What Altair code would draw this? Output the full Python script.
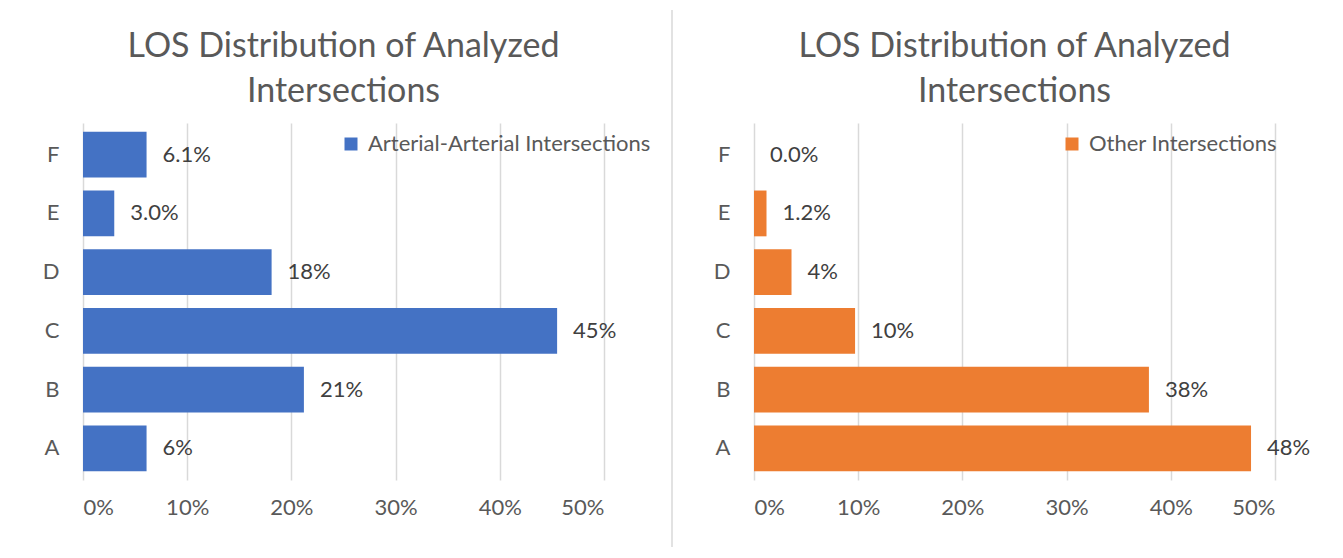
import altair as alt
import pandas as pd

categories = ["A", "B", "C", "D", "E", "F"]
arterial_values = [0.061, 0.212, 0.455, 0.181, 0.030, 0.061]
arterial_labels = ["6%", "21%", "45%", "18%", "3.0%", "6.1%"]
other_values = [0.477, 0.379, 0.097, 0.036, 0.012, 0.000]
other_labels = ["48%", "38%", "10%", "4%", "1.2%", "0.0%"]
series_names = ["Arterial-Arterial Intersections", "Other Intersections"]
series_colors = ["#4472C4", "#ED7D31"]
x_ticks = [0, 0.1, 0.2, 0.3, 0.4, 0.5]
title_lines = ["LOS Distribution of Analyzed", "Intersections"]

FONT = "Lato"
W, H = 521, 357
FS = 22


def panel(values, labels, name, color, legend_x):
    df = pd.DataFrame({"LOS": categories, "share": values, "label": labels, "series": name})
    base = alt.Chart(df).encode(
        y=alt.Y("LOS:N", sort=list(reversed(categories)), title=None,
                scale=alt.Scale(paddingInner=0.22, paddingOuter=0.15),
                axis=alt.Axis(ticks=False, domain=False, labelPadding=24, labelFontSize=FS,
                              labelColor="#595959", labelFont=FONT, grid=False)),
        x=alt.X("share:Q", title=None, scale=alt.Scale(domain=[0, 0.5], nice=False),
                axis=alt.Axis(values=x_ticks, format=".0%", ticks=False, domain=False, grid=True,
                              gridColor="#D9D9D9", gridWidth=1.5, labelPadding=17, labelFontSize=FS,
                              labelColor="#595959", labelFont=FONT)),
    )
    bars = base.mark_bar().encode(
        color=alt.Color("series:N", scale=alt.Scale(domain=[name], range=[color]),
                        legend=alt.Legend(title=None, orient="none", legendX=legend_x, legendY=10,
                                          symbolType="square", symbolSize=169, symbolStrokeWidth=0,
                                          labelFontSize=FS, labelFont=FONT, labelColor="#595959",
                                          labelLimit=400, labelOffset=6, padding=0))
    )
    text = base.mark_text(align="left", baseline="middle", dx=16, fontSize=FS, font=FONT,
                          color="#404040").encode(text="label:N")
    return alt.layer(bars, text).properties(
        width=W, height=H,
        title=alt.TitleParams(text=title_lines, fontSize=34, font=FONT, color="#595959",
                              fontWeight="normal", anchor="middle", frame="group",
                              lineHeight=45, offset=14),
    )


left = panel(arterial_values, arterial_labels, series_names[0], series_colors[0], 257)
right = panel(other_values, other_labels, series_names[1], series_colors[1], 307)

divider = alt.Chart(pd.DataFrame({"d": [0]})).mark_rule(color="#D9D9D9", strokeWidth=1.5).encode(
    x=alt.value(-2), y=alt.value(-113), y2=alt.value(424)
).properties(width=10, height=H)

chart = alt.hconcat(left, divider, right, spacing=70, bounds="flush").resolve_scale(
    color="independent", x="independent", y="independent"
).properties(
    padding={"left": 33, "top": 0, "right": 0, "bottom": 0},
    background="white",
).configure_view(stroke="transparent")

chart.save("out.html", embed_options={"renderer": "svg", "actions": False})
